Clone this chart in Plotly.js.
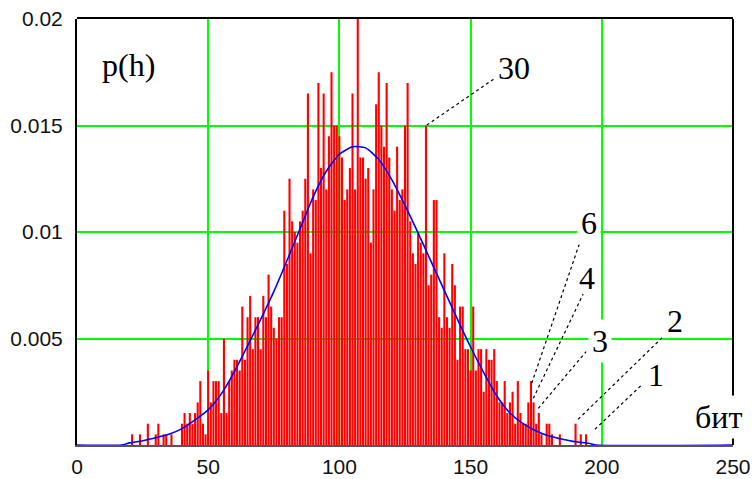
<!DOCTYPE html>
<html>
<head>
<meta charset="utf-8">
<script src="https://cdn.plot.ly/plotly-3.0.1.min.js"></script>
<style>
  html, body { margin: 0; padding: 0; background: #fff; }
  #chart { width: 753px; height: 479px; }
</style>
</head>
<body>
<div id="chart"></div>
<script>
// ---- data ----
// histogram: h (bits) and counts per h, sample size 2000 (one count = 0.0005)
const hStart = 18;
const counts = [
  0, 0, 0, 1, 0, 0, 1, 0, 0, 2, 0, 0, 1, 2, 0, 1, 1, 0, 1, 0, 0, 0,      // 18-39
  2, 3, 2, 3, 2, 3, 4, 6, 2, 1,                                          // 40-49
  7, 4, 6, 6, 6, 3, 10, 3, 6, 7,                                         // 50-59
  8, 8, 7, 13, 8, 12, 14, 9, 12, 12,                                     // 60-69
  9, 14, 12, 16, 13, 11, 10, 12, 12, 22,                                 // 70-79
  17, 25, 21, 20, 19, 21, 22, 25, 33, 18,                                // 80-89
  24, 23, 34, 26, 33, 24, 29, 35, 30, 30,                                // 90-99
  29, 27, 23, 24, 26, 33, 24, 40, 27, 27,                                // 100-109
  25, 26, 19, 24, 32, 35, 30, 28, 34, 27,                                // 110-119
  24, 22, 28, 23, 24, 30, 34, 21, 18, 17,                                // 120-129
  20, 19, 18, 30, 15, 16, 23, 23, 12, 11,                                // 130-139
  18, 12, 11, 17, 15, 8, 13, 13, 9, 9,                                   // 140-149
  7, 13, 7, 9, 9, 5, 9, 8, 8, 9,                                         // 150-159
  6, 4, 4, 6, 3, 4, 5, 2, 6, 3,                                          // 160-169
  2, 2, 4, 6, 4, 2, 3, 1, 0, 2,                                          // 170-179
  2, 1, 0, 0, 1, 0, 0, 0, 0, 0,                                          // 180-189
  2, 0, 1, 0, 1, 0, 0, 0, 0, 0                                           // 190-199
];
const sampleSize = 2000;

// theoretical curve
const curveH = [0, 17, 20, 25, 30, 35, 40, 45, 50, 55, 60, 65, 70, 75, 80, 85, 90, 95, 100, 105,
                110, 115, 120, 125, 130, 135, 140, 145, 150, 155, 160, 165, 170, 175, 180, 185, 190, 195, 198, 250];
const curveP = [0, 0, 0.00010, 0.00020, 0.00034, 0.00050, 0.00077, 0.00118, 0.00165, 0.00240, 0.00345, 0.00465,
                0.00590, 0.00720, 0.00865, 0.01015, 0.01165, 0.01285, 0.01365, 0.01400, 0.01395, 0.01340, 0.01245,
                0.01125, 0.00995, 0.00860, 0.00725, 0.00590, 0.00460, 0.00340, 0.00230, 0.00150, 0.00100, 0.00066,
                0.00042, 0.00027, 0.00015, 0.00008, 0, 0];

// axis ticks
const xTicks = [0, 50, 100, 150, 200, 250];
const yTicks = [0.005, 0.01, 0.015, 0.02];
const yTickText = ['0.005', '0.01', '0.015', '0.02'];

// labels: text, centre (h, p)
const labelText = ['p(h)', '30', '6', '4', '3', '2', '1', 'бит'];
const labelH    = [19.8, 166.5, 195.3, 194.2, 199.5, 227.9, 220.7, 244.3];
const labelP    = [0.01784, 0.0177, 0.01042, 0.00786, 0.00486, 0.0058, 0.00329, 0.00131];
const labelBg   = [false, false, true, false, true, false, false, true];
// leader lines: [h0, p0, h1, p1]
const leaders = [
  [133.3, 0.01502, 158.7, 0.01717],
  [173.3, 0.00290, 192.3, 0.00975],
  [173.9, 0.00219, 192.9, 0.00709],
  [175.8, 0.00172, 194.0, 0.00438],
  [191.0, 0.00121, 223.2, 0.00506],
  [197.4, 0.00074, 215.2, 0.00282]
];

// ---- build ----
const hVals = counts.map((c, i) => hStart + i);
const pVals = counts.map(c => c / sampleSize);

const traces = [
  {
    type: 'bar', x: hVals, y: pVals, width: 0.8,
    marker: { color: '#ff0000', line: { width: 0 } },
    hoverinfo: 'skip'
  },
  {
    type: 'scatter', mode: 'lines', x: curveH, y: curveP,
    line: { color: '#0000ff', width: 1.6, shape: 'spline', smoothing: 0.6 },
    hoverinfo: 'skip'
  }
];

const serif = 'Liberation Serif, Times New Roman, serif';
const annotations = labelText.map((t, i) => ({
  x: labelH[i], y: labelP[i], xref: 'x', yref: 'y',
  text: t, showarrow: false, xanchor: 'center', yanchor: 'middle',
  font: { family: serif, size: 32, color: '#000' },
  bgcolor: labelBg[i] ? '#ffffff' : 'rgba(0,0,0,0)',
  borderpad: labelBg[i] ? 3 : 0
}));

const shapes = leaders.map(l => ({
  type: 'line', xref: 'x', yref: 'y',
  x0: l[0], y0: l[1], x1: l[2], y1: l[3],
  line: { color: '#000', width: 1.2, dash: 'dot' },
  layer: 'above'
}));
// top border (black) just under top gridline, right border (black)
shapes.push({ type: 'line', xref: 'paper', yref: 'paper', x0: 0, x1: 1, y0: 1, y1: 1,
              ysizemode: 'pixel', yanchor: 1, line: { color: '#000', width: 2 }, layer: 'above' });
shapes.push({ type: 'line', xref: 'paper', yref: 'paper', x0: 1, x1: 1, y0: 0, y1: 1,
              line: { color: '#000', width: 2 }, layer: 'above' });

const tickFont = { family: 'Liberation Sans, Arial, sans-serif', size: 21, color: '#111' };

const layout = {
  width: 753, height: 479,
  margin: { l: 77, r: 20, t: 19, b: 34, pad: 0 },
  paper_bgcolor: '#ffffff', plot_bgcolor: '#ffffff',
  showlegend: false,
  xaxis: {
    range: [0, 250], tickmode: 'array', tickvals: xTicks,
    showgrid: true, gridcolor: '#00ff00', gridwidth: 2,
    zeroline: false, showline: true, linecolor: '#555', linewidth: 2,
    ticks: '', ticklabelstandoff: 2, tickfont: tickFont,
    layer: 'below traces', fixedrange: true
  },
  yaxis: {
    range: [0, 0.02], tickmode: 'array', tickvals: yTicks, ticktext: yTickText,
    showgrid: true, gridcolor: '#00ff00', gridwidth: 2,
    zeroline: false, showline: true, linecolor: '#000', linewidth: 2,
    ticks: '', ticklabelstandoff: 8, tickfont: tickFont, fixedrange: true
  },
  annotations: annotations,
  shapes: shapes
};

Plotly.newPlot('chart', traces, layout, { staticPlot: true, displayModeBar: false });
</script>
</body>
</html>
